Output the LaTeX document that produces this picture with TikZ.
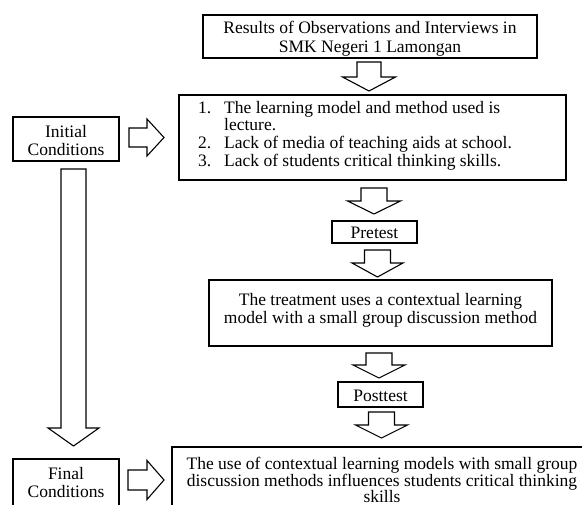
\documentclass[tikz,border=0pt]{standalone}
\usepackage{fontspec}
\setmainfont{Liberation Serif}
\tikzset{
  box/.style={draw, line width=1.6pt, inner sep=0pt, fill=white},
  txt/.style={inner sep=0pt, align=center, font=\fontsize{17.5}{18}\selectfont},
  blk/.style={draw, line width=1.1pt, fill=white, line join=miter},
}
\newcommand{\blkdown}[6]{% cx, top, base, tip, shaft half, head half
  \draw[blk] (#1-#5,#2) -- (#1+#5,#2) -- (#1+#5,#3) -- (#1+#6,#3) -- (#1,#4)
    -- (#1-#6,#3) -- (#1-#5,#3) -- cycle;}
\newcommand{\blkright}[6]{% cy, left, base, tip, shaft half, head half
  \draw[blk] (#2,#1-#5) -- (#3,#1-#5) -- (#3,#1-#6) -- (#4,#1) -- (#3,#1+#6)
    -- (#3,#1+#5) -- (#2,#1+#5) -- cycle;}
\begin{document}
\begin{tikzpicture}[x=1pt,y=-1pt]
\useasboundingbox (0,0) rectangle (582,505);
\clip (0,0) rectangle (582,505);
\fill[white] (0,0) rectangle (582,505);

% top box
\node[box, minimum width=334pt, minimum height=43pt] (top) at (370,36.5) {};
\node[txt, font=\fontsize{17.5}{19.5}\selectfont] (toptxt) at (370,38.5)
  {Results of Observations and Interviews in\\SMK Negeri 1 Lamongan};

% box 2 (initial list)
\node[box, minimum width=387pt, minimum height=85pt] (init) at (372.5,137.5) {};
\node[inner sep=0pt, anchor=north west, font=\fontsize{17.5}{17.5}\selectfont] (inittxt) at (198,101)
  {\begin{tabular}{@{}p{26pt}@{}l@{}}
   1. & The learning model and method used is\\
      & lecture.\\
   2. & Lack of media of teaching aids at school.\\
   3. & Lack of students critical thinking skills.
   \end{tabular}};

% Initial conditions
\node[box, minimum width=106pt, minimum height=44pt] (ic) at (66,139) {};
\node[txt] (ictxt) at (66,140.5) {Initial\\Conditions};

% Pretest
\node[box, minimum width=85pt, minimum height=22pt] (pre) at (374.5,232) {};
\node[txt] (pretxt) at (374.5,233) {Pretest};

% treatment box
\node[box, minimum width=343pt, minimum height=66pt] (treat) at (380.5,313) {};
\node[txt] (treattxt) at (380.5,310)
  {The treatment uses a contextual learning\\model with a small group discussion method};

% Posttest
\node[box, minimum width=85pt, minimum height=25pt] (post) at (380.5,394.5) {};
\node[txt] (posttxt) at (380.5,395.5) {Posttest};

% Final conditions
\node[box, minimum width=106pt, minimum height=50pt] (fc) at (66,484) {};
\node[txt] (fctxt) at (66,482.5) {Final\\Conditions};

% result box
\node[box, minimum width=420pt, minimum height=70pt] (res) at (382,482) {};
\node[txt, font=\fontsize{17.5}{16.5}\selectfont] (restxt) at (382,480)
  {The use of contextual learning models with small group\\discussion methods influences students critical thinking\\skills};

% block arrows
\blkdown{369}{62}{77}{91}{12}{26.5}
\blkdown{374}{188}{201}{214}{13}{26.5}
\blkdown{377.5}{250}{263}{277}{13}{25.5}
\blkdown{379}{353}{365}{378}{13}{26}
\blkdown{381.5}{412}{425}{438}{13}{26}
\blkdown{73.5}{169}{428}{446}{12.5}{25.5}
\blkright{137.5}{129}{147}{164}{9.5}{18.5}
\blkright{480}{128}{147}{164}{10}{19.5}
\end{tikzpicture}
\end{document}
